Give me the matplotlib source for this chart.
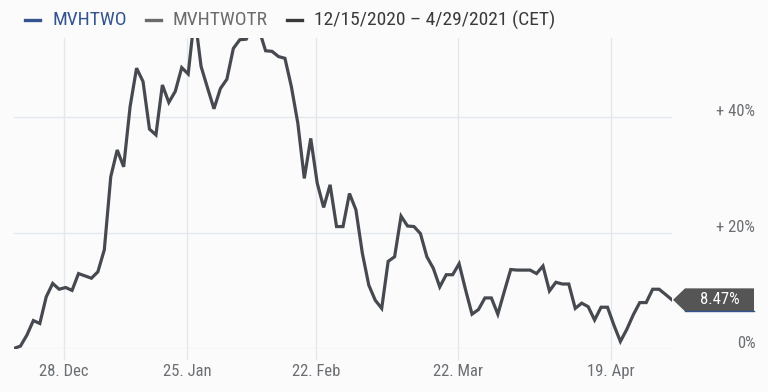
import numpy as np
import matplotlib
matplotlib.use("Agg")
import matplotlib.pyplot as plt
from matplotlib.transforms import ScaledTranslation, Affine2D
from matplotlib.patches import Polygon
from matplotlib import font_manager

# performance in %, one value per trading day, 12/15/2020 - 4/29/2021
perf = [0.1, 0.5, 2.4, 4.9, 4.4, 9.0, 11.3, 10.3, 10.6, 10.1,
        13.0, 12.6, 12.2, 13.3, 17.1, 29.7, 34.3, 31.4, 41.8, 48.4,
        46.1, 37.9, 36.9, 45.5, 42.5, 44.4, 48.5, 47.4, 57.5,
        48.7, 45.0, 41.4, 44.9, 46.5, 51.8, 53.3, 53.4, 56.0, 55.0,
        51.4, 51.3, 50.4, 50.1, 45.2, 38.9, 29.4, 36.3, 28.6,
        24.4, 28.3, 21.1, 21.1, 26.8, 24.0, 16.5, 11.0, 8.4, 7.0,
        15.1, 15.9, 22.9, 21.2, 21.1, 19.9, 15.9, 13.9, 10.7, 12.8,
        12.8, 14.7, 10.2, 6.0, 6.8, 8.8, 8.8, 6.0, 9.9, 13.7,
        13.6, 13.6, 13.6, 13.0, 14.3, 10.0, 11.5, 11.2, 11.2, 7.0,
        7.9, 7.3, 5.0, 7.2, 7.2, 4.1, 1.3, 3.4, 5.9, 8.0,
        8.0, 10.3, 10.3, 9.4, 8.47]
tick_labels = ["28. Dec", "25. Jan", "22. Feb", "22. Mar", "19. Apr"]
tick_frac = [0.076, 0.263, 0.459, 0.675, 0.907]   # where the dates fall along the series
y_ticks = [0, 20, 40]
y_labels = ["0%", "+ 20%", "+ 40%"]
legend_names = ["MVHTWO", "MVHTWOTR", "12/15/2020 \u2013 4/29/2021 (CET)"]
legend_colors = ["#34548f", "#6b6b6b", "#3a3a3a"]

names = {f.name for f in font_manager.fontManager.ttflist}
fam = [f for f in ["Roboto Condensed", "Liberation Sans Narrow", "DejaVu Sans Condensed"] if f in names]
plt.rcParams['font.family'] = fam + ["DejaVu Sans"]

grid_c = "#e4e8ee"
line_c = "#464a50"
bg = "#fbfbfb"

fig = plt.figure(figsize=(7.68, 3.92), dpi=100, facecolor=bg)
ax = fig.add_axes([14/768, 1 - 349/392, 658/768, 311/392])
ax.set_facecolor(bg)
n = len(perf)
x = np.arange(n)
ax.plot(x, perf, color=line_c, lw=2.3, solid_joinstyle='miter', zorder=3)
ax.set_xlim(0, n - 1)
ax.set_ylim(0, 53.6)

for s in ax.spines.values():
    s.set_visible(False)
ax.set_xticks([f * (n - 1) for f in tick_frac])
ax.set_xticklabels(tick_labels)
ax.set_yticks(y_ticks)
ax.set_yticklabels(y_labels)
ax.grid(True, color=grid_c, lw=1)
ax.tick_params(axis='x', length=8, width=1, color=grid_c, labelcolor="#6b6e72",
               labelsize=12, pad=3)
ax.yaxis.tick_right()
ax.tick_params(axis='y', length=0, labelcolor="#6b6e72", labelsize=12, pad=60)
for lab in ax.get_yticklabels():
    lab.set_horizontalalignment('right')
    lab.set_transform(lab.get_transform() + ScaledTranslation(0, 0.07, fig.dpi_scale_trans))

# legend row
lx = [25, 146, 287]
for px, name, c in zip(lx, legend_names, legend_colors):
    fig.add_artist(plt.Line2D([px/768, (px+15)/768], [1-20/392]*2, color=c, lw=2.4))
    fig.text((px+27)/768, 1-20/392, name, color=c, fontsize=14, va='center', ha='left')

# last value flag
last = perf[-1]
at_point = Affine2D().scale(fig.dpi / 100) + ScaledTranslation(n - 1, last, ax.transData)
flag = Polygon([(1, 0), (13, 11.5), (82, 11.5), (82, -11.5), (13, -11.5)],
               closed=True, fc='#555555', ec='none', transform=at_point, clip_on=False, zorder=4)
fig.add_artist(flag)
fig.add_artist(plt.Line2D([13, 82], [-11.5, -11.5], color="#34548f", lw=1,
                          transform=at_point, zorder=5))
fig.text(0, 0, f"{last:.2f}%", color='white', fontsize=12, ha='center', va='center',
         transform=Affine2D().translate(48 * fig.dpi / 100, 0) + at_point, zorder=6)

fig.savefig("out.png", dpi=100, facecolor=bg)
